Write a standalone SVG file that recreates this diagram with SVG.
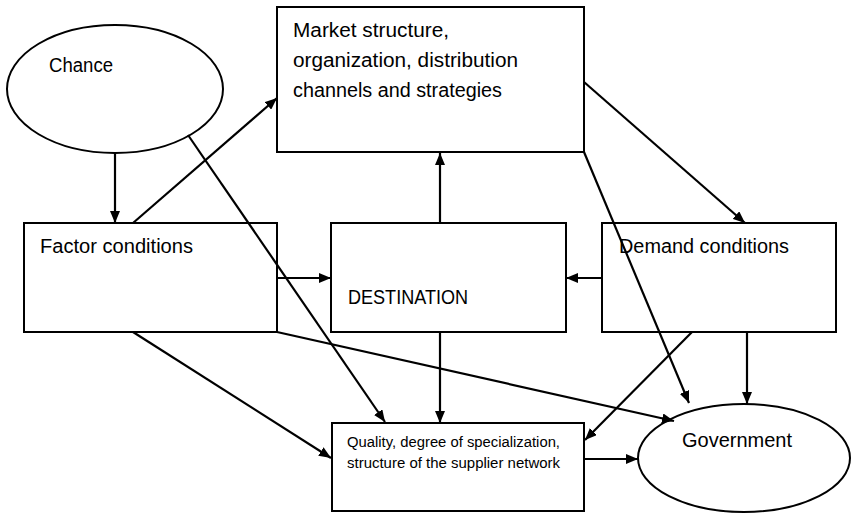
<svg xmlns="http://www.w3.org/2000/svg" width="852" height="513" viewBox="0 0 852 513">
<defs>
<marker id="arr" viewBox="0 0 12 10" refX="12" refY="5" markerWidth="12" markerHeight="10" markerUnits="userSpaceOnUse" orient="auto">
<path d="M0,0 L12,5 L0,10 Z" fill="#000"/>
</marker>
<style>
.shape{fill:#fff;stroke:#000;stroke-width:2}
.t{font-family:"Liberation Sans",Arial,sans-serif;font-size:19.5px;fill:#000}
.s{font-family:"Liberation Sans",Arial,sans-serif;font-size:14px;fill:#000}
.c{stroke:#000;stroke-width:2.2;fill:none;marker-end:url(#arr)}
</style>
</defs>
<rect width="852" height="513" fill="#fff"/>
<g id="chance"><ellipse class="shape" cx="115" cy="89" rx="108" ry="64"/><text class="t" x="49" y="72" textLength="64" lengthAdjust="spacingAndGlyphs">Chance</text></g>
<g id="market"><rect class="shape" x="277" y="7" width="307" height="145"/>
<text class="t" x="293" y="37" textLength="156" lengthAdjust="spacingAndGlyphs">Market structure,</text>
<text class="t" x="293" y="67" textLength="225" lengthAdjust="spacingAndGlyphs">organization, distribution</text>
<text class="t" x="293" y="97" textLength="209" lengthAdjust="spacingAndGlyphs">channels and strategies</text></g>
<g id="factor"><rect class="shape" x="24" y="223" width="253" height="109"/><text class="t" x="40" y="253" textLength="153" lengthAdjust="spacingAndGlyphs">Factor conditions</text></g>
<g id="destination"><rect class="shape" x="331" y="223" width="235" height="109"/><text class="t" x="348" y="304" textLength="120" lengthAdjust="spacingAndGlyphs">DESTINATION</text></g>
<g id="demand"><rect class="shape" x="602" y="223" width="234" height="109"/><text class="t" x="619" y="253" textLength="170" lengthAdjust="spacingAndGlyphs">Demand conditions</text></g>
<g id="quality"><rect class="shape" x="332" y="423" width="252" height="88"/>
<text class="s" x="347" y="447" textLength="213" lengthAdjust="spacingAndGlyphs">Quality, degree of specialization,</text>
<text class="s" x="347" y="468" textLength="213" lengthAdjust="spacingAndGlyphs">structure of the supplier network</text></g>
<g id="government"><ellipse class="shape" cx="744" cy="458" rx="106" ry="54"/><text class="t" x="682" y="447" textLength="110" lengthAdjust="spacingAndGlyphs">Government</text></g>
<g id="connectors">
<line class="c" x1="115" y1="153" x2="115" y2="223"/>
<line class="c" x1="133" y1="223" x2="277" y2="98"/>
<line class="c" x1="188" y1="135" x2="385" y2="422"/>
<line class="c" x1="584" y1="82" x2="745" y2="223"/>
<line class="c" x1="584" y1="152" x2="689" y2="403"/>
<line class="c" x1="440" y1="223" x2="440" y2="153"/>
<line class="c" x1="277" y1="278" x2="331" y2="278"/>
<line class="c" x1="602" y1="278" x2="566" y2="278"/>
<line class="c" x1="440" y1="332" x2="440" y2="423"/>
<line class="c" x1="133" y1="332" x2="331" y2="458"/>
<line class="c" x1="277" y1="332" x2="674" y2="421"/>
<line class="c" x1="692" y1="332" x2="585" y2="440"/>
<line class="c" x1="747" y1="332" x2="747" y2="404"/>
<line class="c" x1="584" y1="459" x2="638" y2="459"/>
</g>
</svg>
